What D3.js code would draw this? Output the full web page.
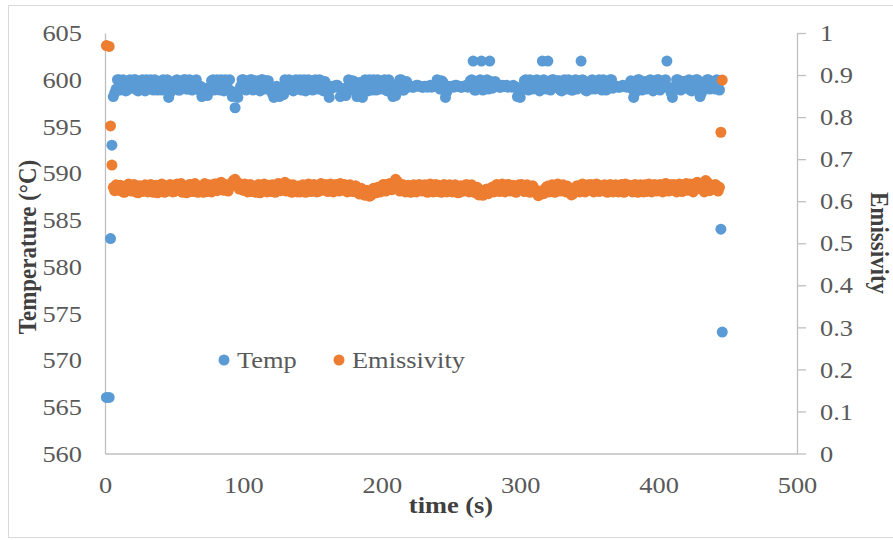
<!DOCTYPE html>
<html>
<head>
<meta charset="utf-8">
<script src="https://cdnjs.cloudflare.com/ajax/libs/d3/7.8.5/d3.min.js"></script>
<style>
  html, body { margin: 0; padding: 0; background: #ffffff; }
  svg { display: block; }
</style>
</head>
<body>
<div id="chart"></div>
<script>
// ---- data (1 s sampling) ----
const timeS = [1, 3, 4, 5,
  6, 7, 8, 9,
  10, 11, 12, 13, 14, 15, 16, 17, 18, 19, 20, 21, 22, 23, 24, 25, 26, 27, 28, 29,
  30, 31, 32, 33, 34, 35, 36, 37, 38, 39, 40, 41, 42, 43, 44, 45, 46, 47, 48, 49,
  50, 51, 52, 53, 54, 55, 56, 57, 58, 59, 60, 61, 62, 63, 64, 65, 66, 67, 68, 69,
  70, 71, 72, 73, 74, 75, 76, 77, 78, 79, 80, 81, 82, 83, 84, 85, 86, 87, 88, 89,
  90, 91, 92, 93, 94, 95, 96, 97, 98, 99, 100, 101, 102, 103, 104, 105, 106, 107, 108, 109,
  110, 111, 112, 113, 114, 115, 116, 117, 118, 119, 120, 121, 122, 123, 124, 125, 126, 127, 128, 129,
  130, 131, 132, 133, 134, 135, 136, 137, 138, 139, 140, 141, 142, 143, 144, 145, 146, 147, 148, 149,
  150, 151, 152, 153, 154, 155, 156, 157, 158, 159, 160, 161, 162, 163, 164, 165, 166, 167, 168, 169,
  170, 171, 172, 173, 174, 175, 176, 177, 178, 179, 180, 181, 182, 183, 184, 185, 186, 187, 188, 189,
  190, 191, 192, 193, 194, 195, 196, 197, 198, 199, 200, 201, 202, 203, 204, 205, 206, 207, 208, 209,
  210, 211, 212, 213, 214, 215, 216, 217, 218, 219, 220, 221, 222, 223, 224, 225, 226, 227, 228, 229,
  230, 231, 232, 233, 234, 235, 236, 237, 238, 239, 240, 241, 242, 243, 244, 245, 246, 247, 248, 249,
  250, 251, 252, 253, 254, 255, 256, 257, 258, 259, 260, 261, 262, 263, 264, 265, 266, 267, 268, 269,
  270, 271, 272, 273, 274, 275, 276, 277, 278, 279, 280, 281, 282, 283, 284, 285, 286, 287, 288, 289,
  290, 291, 292, 293, 294, 295, 296, 297, 298, 299, 300, 301, 302, 303, 304, 305, 306, 307, 308, 309,
  310, 311, 312, 313, 314, 315, 316, 317, 318, 319, 320, 321, 322, 323, 324, 325, 326, 327, 328, 329,
  330, 331, 332, 333, 334, 335, 336, 337, 338, 339, 340, 341, 342, 343, 344, 345, 346, 347, 348, 349,
  350, 351, 352, 353, 354, 355, 356, 357, 358, 359, 360, 361, 362, 363, 364, 365, 366, 367, 368, 369,
  370, 371, 372, 373, 374, 375, 376, 377, 378, 379, 380, 381, 382, 383, 384, 385, 386, 387, 388, 389,
  390, 391, 392, 393, 394, 395, 396, 397, 398, 399, 400, 401, 402, 403, 404, 405, 406, 407, 408, 409,
  410, 411, 412, 413, 414, 415, 416, 417, 418, 419, 420, 421, 422, 423, 424, 425, 426, 427, 428, 429,
  430, 431, 432, 433, 434, 435, 436, 437, 438, 439,
  440, 441, 442, 443, 444,
  445, 446];

const tempC = [566, 566, 583, 593,
  598.2, 598.6, 599.0, 600,
  600, 598.9, 599.2, 600, 599.7, 598.8, 598.9, 599.6, 600, 599.1,
  599.4, 600, 600, 598.9, 598.8, 599.5, 599.8, 600, 599.3, 598.8,
  600, 599.4, 599.0, 600, 599.6, 598.9, 600, 599.3, 598.9, 599.8,
  599.7, 598.9, 600, 599.4, 599.1, 600, 598.1, 598.6, 599.3, 599.2,
  599.2, 599.9, 600, 598.9, 598.9, 599.6, 599.7, 600, 600, 599.0,
  599.0, 600, 599.8, 598.9, 599.4, 599.9, 600, 599.1, 598.9, 599.3,
  598.2, 598.9, 599.1, 598.4, 598.3, 599.0, 599.2, 599.9, 600, 598.9,
  599.0, 600, 599.7, 598.9, 600, 599.5, 598.8, 600, 599.5, 599.0,
  600, 598.8, 598.2, 598.5, 597.0, 598.3, 598.1, 598.9, 599.3, 600,
  600, 599.0, 598.9, 599.8, 599.6, 600, 600, 598.9, 599.1, 599.9,
  599.8, 599.0, 598.8, 600, 600, 599.0, 599.4, 599.9, 599.9, 598.9,
  598.9, 598.5, 598.1, 599.0, 599.3, 598.6, 598.2, 599.2, 599.0, 598.4,
  600, 598.9, 599.3, 600, 599.9, 599.0, 598.8, 599.6, 600, 599.0,
  599.5, 600, 598.9, 599.2, 600, 598.8, 599.2, 600, 599.8, 599.0,
  598.9, 599.9, 600, 599.0, 599.4, 600, 599.9, 598.9, 598.8, 599.8,
  599.3, 598.7, 598.1, 599.0, 599.3, 599.3, 599.2, 599.4, 599.4, 599.2,
  598.2, 598.9, 599.0, 598.5, 598.3, 599.2, 600, 598.9, 599.2, 599.9,
  599.8, 598.9, 598.2, 599.4, 599.7, 598.6, 598.1, 599.2, 600, 599.0,
  598.8, 600, 599.5, 598.9, 600, 599.7, 598.9, 600, 599.8, 599.0,
  599.1, 599.9, 600, 598.9, 598.8, 600, 599.7, 598.8, 598.2, 598.6,
  598.3, 599.0, 599.2, 600, 600, 598.9, 598.9, 599.6, 599.8, 599.2,
  599.3, 599.3, 599.2, 599.2, 599.3, 599.4, 599.4, 599.3, 599.3, 599.2,
  599.2, 599.3, 599.3, 599.2, 599.3, 599.4, 599.2, 599.3, 599.4, 599.3,
  600, 599.3, 599.0, 599.9, 599.8, 598.9, 598.1, 598.7, 599.3, 599.2,
  599.3, 599.3, 599.2, 599.4, 599.4, 599.3, 599.3, 599.2, 599.2, 599.3,
  599.3, 599.4, 599.2, 599.3, 599.9, 600, 602, 598.9, 598.9, 599.8,
  599.8, 600, 602, 598.9, 599.0, 599.7, 600, 599.0, 602, 599.8,
  599.1, 599.3, 599.8, 599.3, 599.3, 599.2, 599.2, 599.4, 599.3, 599.3,
  599.4, 599.2, 599.3, 599.3, 599.2, 599.4, 599.3, 599.2, 598.2, 598.6,
  598.1, 598.9, 599.0, 599.9, 600, 599.1, 598.9, 600, 599.8, 599.0,
  599.2, 599.9, 600, 599.0, 598.8, 599.6, 602, 600, 599.7, 599.0,
  602, 599.1, 598.9, 600, 600, 599.2, 599.3, 599.9, 599.9, 598.9,
  598.8, 599.8, 600, 599.0, 599.2, 600, 599.8, 598.9, 598.9, 599.7,
  600, 599.0, 599.4, 599.9, 602, 600, 599.9, 598.9, 598.8, 599.6,
  599.7, 599.0, 600, 599.8, 599.0, 599.4, 599.8, 600, 599.1, 598.9,
  600, 599.5, 598.9, 599.0, 599.6, 600, 600, 599.1, 599.2, 599.3,
  599.3, 599.2, 599.2, 599.3, 599.4, 599.3, 599.3, 599.2, 599.3, 599.6,
  599.9, 599.0, 598.1, 598.6, 599.0, 600, 600, 599.1, 598.9, 599.7,
  599.8, 599.0, 599.2, 599.9, 600, 599.0, 598.8, 599.5, 599.6, 600,
  600, 598.9, 599.1, 599.8, 599.7, 600, 602, 599.2, 599.0, 598.6,
  598.1, 598.9, 599.3, 600, 600, 599.0, 598.9, 599.8, 599.8, 599.1,
  599.3, 599.9, 600, 598.9, 598.8, 599.6, 599.7, 600, 600, 599.0,
  598.2, 598.6, 598.9, 599.6, 599.8, 600, 600, 599.0, 599.1, 599.8,
  599.7, 599.0, 600, 599.5, 598.9,
  584, 573];

const emissivity = [0.970, 0.968, 0.779, 0.686,
  0.633, 0.625, 0.639, 0.628,
  0.626, 0.638, 0.636, 0.622, 0.621, 0.634, 0.629, 0.641, 0.639, 0.624,
  0.625, 0.640, 0.634, 0.621, 0.620, 0.637, 0.631, 0.623, 0.628, 0.639,
  0.636, 0.622, 0.623, 0.640, 0.633, 0.621, 0.626, 0.638, 0.620, 0.632,
  0.631, 0.641, 0.625, 0.621, 0.637, 0.624, 0.628, 0.640, 0.634, 0.622,
  0.623, 0.637, 0.641, 0.626, 0.629, 0.642, 0.621, 0.631, 0.634, 0.620,
  0.626, 0.640, 0.639, 0.623, 0.631, 0.642, 0.625, 0.621, 0.636, 0.628,
  0.629, 0.621, 0.642, 0.636, 0.623, 0.639, 0.634, 0.622, 0.628, 0.641,
  0.641, 0.625, 0.631, 0.643, 0.645, 0.627, 0.626, 0.640, 0.637, 0.624,
  0.633, 0.641, 0.645, 0.650, 0.652, 0.646, 0.644, 0.629, 0.634, 0.640,
  0.626, 0.641, 0.637, 0.622, 0.629, 0.640, 0.623, 0.631, 0.634, 0.621,
  0.628, 0.640, 0.620, 0.626, 0.631, 0.641, 0.625, 0.622, 0.634, 0.638,
  0.623, 0.639, 0.636, 0.621, 0.628, 0.642, 0.641, 0.625, 0.631, 0.637,
  0.645, 0.624, 0.634, 0.640, 0.626, 0.621, 0.639, 0.633, 0.629, 0.622,
  0.636, 0.622, 0.625, 0.639, 0.633, 0.621, 0.628, 0.641, 0.637, 0.623,
  0.626, 0.640, 0.634, 0.622, 0.623, 0.637, 0.642, 0.626, 0.631, 0.639,
  0.639, 0.623, 0.628, 0.641, 0.636, 0.622, 0.625, 0.640, 0.633, 0.624,
  0.642, 0.626, 0.629, 0.640, 0.637, 0.622, 0.626, 0.639, 0.634, 0.623,
  0.625, 0.637, 0.633, 0.619, 0.617, 0.631, 0.628, 0.621, 0.614, 0.626,
  0.623, 0.612, 0.613, 0.625, 0.631, 0.620, 0.620, 0.633, 0.629, 0.622,
  0.626, 0.640, 0.639, 0.624, 0.631, 0.641, 0.642, 0.627, 0.634, 0.644,
  0.652, 0.648, 0.637, 0.624, 0.628, 0.640, 0.634, 0.622, 0.625, 0.638,
  0.631, 0.621, 0.623, 0.639, 0.634, 0.622, 0.626, 0.640, 0.636, 0.624,
  0.628, 0.639, 0.633, 0.621, 0.625, 0.641, 0.636, 0.622, 0.629, 0.640,
  0.623, 0.638, 0.633, 0.621, 0.626, 0.640, 0.637, 0.622, 0.629, 0.639,
  0.634, 0.622, 0.625, 0.639, 0.631, 0.620, 0.621, 0.637, 0.633, 0.624,
  0.628, 0.640, 0.636, 0.622, 0.625, 0.639, 0.631, 0.621, 0.620, 0.633,
  0.615, 0.622, 0.626, 0.614, 0.617, 0.627, 0.629, 0.618, 0.623, 0.631,
  0.634, 0.622, 0.626, 0.640, 0.637, 0.623, 0.629, 0.641, 0.636, 0.622,
  0.628, 0.640, 0.639, 0.624, 0.631, 0.638, 0.625, 0.621, 0.634, 0.639,
  0.629, 0.640, 0.637, 0.623, 0.626, 0.639, 0.634, 0.621, 0.625, 0.637,
  0.631, 0.621, 0.623, 0.613, 0.615, 0.624, 0.620, 0.618, 0.629, 0.634,
  0.636, 0.622, 0.626, 0.639, 0.634, 0.621, 0.628, 0.641, 0.639, 0.624,
  0.631, 0.639, 0.625, 0.622, 0.636, 0.628, 0.621, 0.615, 0.617, 0.626,
  0.623, 0.637, 0.629, 0.622, 0.637, 0.641, 0.628, 0.622, 0.634, 0.639,
  0.626, 0.640, 0.636, 0.622, 0.629, 0.641, 0.639, 0.623, 0.631, 0.637,
  0.625, 0.639, 0.634, 0.621, 0.628, 0.640, 0.637, 0.622, 0.629, 0.639,
  0.636, 0.622, 0.626, 0.640, 0.633, 0.621, 0.641, 0.628, 0.629, 0.638,
  0.637, 0.622, 0.628, 0.640, 0.634, 0.621, 0.625, 0.639, 0.631, 0.622,
  0.639, 0.623, 0.629, 0.641, 0.636, 0.622, 0.626, 0.640, 0.633, 0.624,
  0.628, 0.640, 0.637, 0.622, 0.631, 0.642, 0.641, 0.624, 0.633, 0.639,
  0.626, 0.640, 0.636, 0.622, 0.629, 0.641, 0.639, 0.623, 0.631, 0.638,
  0.642, 0.626, 0.633, 0.641, 0.628, 0.622, 0.637, 0.643, 0.645, 0.630,
  0.634, 0.641, 0.628, 0.622, 0.649, 0.646, 0.639, 0.625, 0.631, 0.638,
  0.629, 0.640, 0.637, 0.624, 0.633,
  0.764, 0.888];

const xTicks = [0, 100, 200, 300, 400, 500];
const leftTicks = [560, 565, 570, 575, 580, 585, 590, 595, 600, 605];
const rightTicks = [0, 0.1, 0.2, 0.3, 0.4, 0.5, 0.6, 0.7, 0.8, 0.9, 1];
const seriesNames = ["Temp", "Emissivity"];
const seriesColors = ["#5b9bd5", "#ed7d31"];
const xTitle = "time (s)";
const yLeftTitle = "Temperature (°C)";
const yRightTitle = "Emissivity";

// ---- layout ----
const W = 893, H = 540;
const plot = { left: 105, right: 797, top: 33, bottom: 453.5 };
const FONT = "'Liberation Serif', 'Times New Roman', serif";
const labelColor = "#595959";
const titleColor = "#404040";
const axisColor = "#bfbfbf";
const SX = 1.1;         // horizontal stretch seen in the reference text
const FS = 24;          // label font size
const R = 5.5;          // marker radius

const svg = d3.select("#chart").append("svg")
  .attr("width", W).attr("height", H)
  .style("font-family", FONT);

svg.append("rect").attr("x", 0).attr("y", 0).attr("width", W).attr("height", H).attr("fill", "#fff");
svg.append("rect")
  .attr("x", 8.5).attr("y", 5.5).attr("width", W + 10).attr("height", 532)
  .attr("fill", "none").attr("stroke", "#d9d9d9").attr("stroke-width", 1);

const x = d3.scaleLinear().domain([0, 500]).range([plot.left, plot.right]);
const yL = d3.scaleLinear().domain([560, 605]).range([plot.bottom, plot.top]);
const yR = d3.scaleLinear().domain([0, 1]).range([plot.bottom, plot.top]);

function styleText(sel) {
  sel.attr("fill", labelColor).style("font-size", FS + "px").style("font-family", FONT)
    .attr("transform", `scale(${SX},1)`);
}

// X axis
const gx = svg.append("g").attr("transform", `translate(0,${plot.bottom})`)
  .call(d3.axisBottom(x).tickValues(xTicks).tickSize(0).tickPadding(22.5).tickFormat(d3.format("d")));
gx.select(".domain").attr("stroke", axisColor).attr("stroke-width", 1.3);
gx.selectAll("text").call(styleText);

// Left axis
const gl = svg.append("g").attr("transform", `translate(${plot.left},0)`)
  .call(d3.axisLeft(yL).tickValues(leftTicks).tickSize(0).tickPadding(23 / SX).tickFormat(d3.format("d")));
gl.select(".domain").attr("stroke", axisColor).attr("stroke-width", 1.3);
gl.selectAll("text").call(styleText);

// Right axis
const gr = svg.append("g").attr("transform", `translate(${plot.right},0)`)
  .call(d3.axisRight(yR).tickValues(rightTicks).tickSizeInner(9).tickSizeOuter(0).tickPadding(23 / SX - 9)
    .tickFormat(d => d3.format("")(+d.toFixed(1))));
gr.select(".domain").attr("stroke", axisColor).attr("stroke-width", 1.3);
gr.selectAll("line").attr("stroke", axisColor).attr("stroke-width", 1.3);
gr.selectAll("text").call(styleText);

// Data points
const tempData = timeS.map((t, i) => ({ t, v: tempC[i] }));
const emisData = timeS.map((t, i) => ({ t, v: emissivity[i] }));

svg.append("g").selectAll("circle").data(tempData).join("circle")
  .attr("cx", d => x(d.t)).attr("cy", d => yL(d.v)).attr("r", R)
  .attr("fill", seriesColors[0]);

svg.append("g").selectAll("circle").data(emisData).join("circle")
  .attr("cx", d => x(d.t)).attr("cy", d => yR(d.v)).attr("r", R)
  .attr("fill", seriesColors[1]);

// Axis titles
svg.append("text").attr("transform", `translate(${(plot.left + plot.right) / 2},513) scale(${SX},1)`)
  .attr("text-anchor", "middle").attr("fill", titleColor)
  .style("font-size", "24px").style("font-weight", "bold").text(xTitle);

svg.append("text").attr("transform", `translate(36,247) scale(${SX},1) rotate(-90)`)
  .attr("text-anchor", "middle").attr("fill", titleColor)
  .style("font-size", "23px").style("font-weight", "bold").text(yLeftTitle);

svg.append("text").attr("transform", `translate(871,243) scale(${SX},1) rotate(90)`)
  .attr("text-anchor", "middle").attr("fill", titleColor)
  .style("font-size", "23px").style("font-weight", "bold").text(yRightTitle);

// Legend
const legendItems = [
  { name: seriesNames[0], color: seriesColors[0], x: 224 },
  { name: seriesNames[1], color: seriesColors[1], x: 339 }
];
const lg = svg.append("g");
legendItems.forEach(it => {
  lg.append("circle").attr("cx", it.x).attr("cy", 360).attr("r", 5.5).attr("fill", it.color);
  lg.append("text").attr("transform", `translate(${it.x + 13},368) scale(${SX},1)`)
    .attr("fill", labelColor).style("font-size", FS + "px").text(it.name);
});
</script>
</body>
</html>
